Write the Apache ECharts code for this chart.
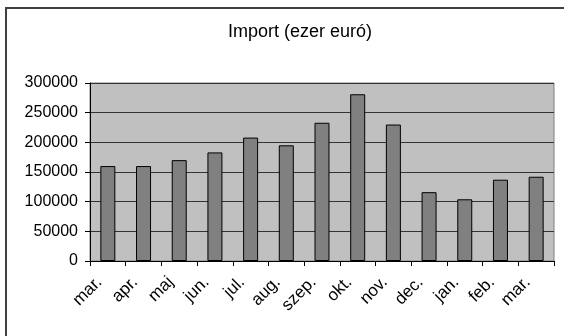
<!DOCTYPE html>
<html>
<head>
<meta charset="utf-8">
<script src="https://cdn.jsdelivr.net/npm/echarts@6/dist/echarts.min.js"></script>
<style>
  html, body { margin: 0; padding: 0; background: #fff; }
  #chart { width: 564px; height: 336px; }
</style>
</head>
<body>
<div id="chart"></div>
<script>
// Monthly import values (thousand euro)
const months = ['mar.', 'apr.', 'maj', 'jun.', 'jul.', 'aug.', 'szep.', 'okt.', 'nov.', 'dec.', 'jan.', 'feb.', 'mar.'];
const importValues = [160000, 160000, 170000, 183000, 208000, 195000, 233000, 281000, 230000, 116000, 104000, 137000, 142000];
const yTicks = [0, 50000, 100000, 150000, 200000, 250000, 300000];

const FONT = '"Liberation Sans", Arial, sans-serif';

const chart = echarts.init(document.getElementById('chart'), null, { renderer: 'canvas' });

chart.setOption({
  backgroundColor: '#ffffff',
  animation: false,
  title: {
    text: 'Import (ezer euró)',
    left: 295,
    top: 18,
    textAlign: 'center',
    textStyle: { fontFamily: FONT, fontSize: 18, fontWeight: 'normal', color: '#000' }
  },
  graphic: [{
    type: 'rect',
    shape: { x: 6, y: 8, width: 600, height: 400 },
    style: { fill: 'none', stroke: '#404040', lineWidth: 2 },
    silent: true
  }],
  grid: {
    left: 90, top: 83, right: 10, bottom: 75,
    show: true,
    backgroundColor: '#c0c0c0',
    borderColor: '#808080',
    borderWidth: 1
  },
  xAxis: {
    type: 'category',
    data: months,
    boundaryGap: true,
    axisLine: { show: true, lineStyle: { color: '#000', width: 1 } },
    axisTick: { show: true, alignWithLabel: false, length: 5, lineStyle: { color: '#000' } },
    axisLabel: {
      rotate: 45,
      interval: 0,
      margin: 10,
      padding: [0, 12, 0, 0],
      fontFamily: FONT,
      fontSize: 17,
      color: '#000'
    }
  },
  yAxis: {
    type: 'value',
    min: yTicks[0],
    max: yTicks[yTicks.length - 1],
    interval: yTicks[1] - yTicks[0],
    axisLine: { show: true, lineStyle: { color: '#000', width: 1 } },
    axisTick: { show: true, length: 5, lineStyle: { color: '#000' } },
    splitLine: { show: true, lineStyle: { color: '#333', width: 1 } },
    axisLabel: {
      margin: 12,
      fontFamily: FONT,
      fontSize: 16,
      color: '#000',
      formatter: (v) => String(v)
    }
  },
  series: [{
    type: 'bar',
    data: importValues,
    barWidth: '42%',
    itemStyle: { color: '#808080', borderColor: '#000', borderWidth: 1 }
  }]
});
</script>
</body>
</html>
